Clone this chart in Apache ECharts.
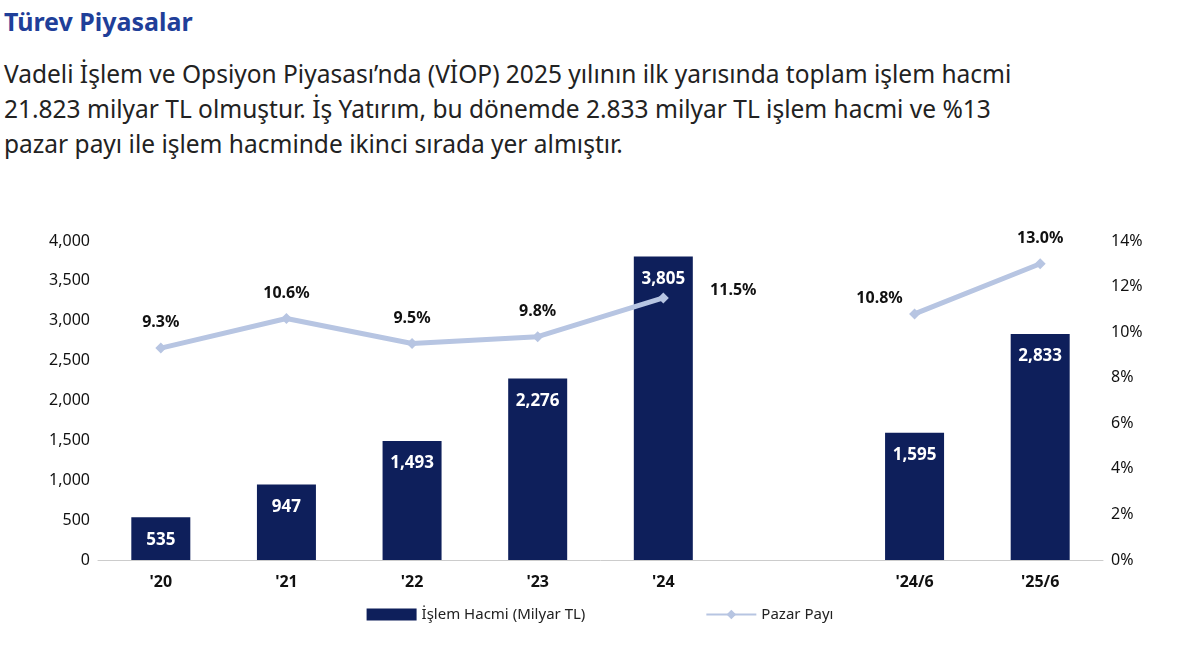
<!DOCTYPE html>
<html><head><meta charset="utf-8">
<script src="https://cdn.jsdelivr.net/npm/echarts@6/dist/echarts.min.js"></script>
<style>
body{margin:0;width:1200px;height:647px;background:#fff;font-family:"Noto Sans",sans-serif;overflow:hidden;position:relative}
#t{position:absolute;left:4px;top:4px;font-size:25px;font-weight:bold;color:#1f3f99}
#p{position:absolute;left:4px;top:56px;width:1195px;font-size:24.5px;line-height:35px;color:#222;white-space:nowrap}
#c{position:absolute;left:0;top:200px;width:1200px;height:447px}
</style></head><body>
<div id="t">Türev Piyasalar</div>
<div id="p">Vadeli İşlem ve Opsiyon Piyasası’nda (VİOP) 2025 yılının ilk yarısında toplam işlem hacmi<br>21.823 milyar TL olmuştur. İş Yatırım, bu dönemde 2.833 milyar TL işlem hacmi ve %13<br>pazar payı ile işlem hacminde ikinci sırada yer almıştır.</div>
<div id="c"></div>
<script>
const categories=["'20","'21","'22","'23","'24","","'24/6","'25/6"];
const volume=[535,947,1493,2276,3805,null,1595,2833];
const share=[9.3,10.6,9.5,9.8,11.5,null,10.8,13.0];
const c=echarts.init(document.getElementById('c'));
const f="Noto Sans";
c.setOption({
 animation:false,
 textStyle:{fontFamily:f},
 grid:{left:98,right:97,top:41,bottom:87},
 legend:{bottom:20,left:'center',itemGap:120,itemWidth:50,itemHeight:12,textStyle:{fontSize:15,color:'#222'},
  data:[{name:'İşlem Hacmi (Milyar TL)',icon:'rect'},{name:'Pazar Payı'}]},
 xAxis:{type:'category',data:categories,axisTick:{show:false},axisLine:{lineStyle:{color:'#ccc'}},
  axisLabel:{fontSize:16,fontWeight:'bold',color:'#111',margin:14}},
 yAxis:[{type:'value',min:0,max:4000,interval:500,splitLine:{show:false},
   axisLabel:{fontSize:16,color:'#111',formatter:v=>v.toLocaleString('en-US')}},
  {type:'value',min:0,max:14,interval:2,splitLine:{show:false},
   axisLabel:{fontSize:16,color:'#111',formatter:'{value}%'}}],
 series:[
  {name:'İşlem Hacmi (Milyar TL)',type:'bar',data:volume,barWidth:59,itemStyle:{color:'#0e1f5b'},
   label:{show:true,position:'insideTop',distance:14,color:'#fff',fontSize:17,fontWeight:'bold',formatter:p=>p.value.toLocaleString('en-US')}},
  {name:'Pazar Payı',type:'line',yAxisIndex:1,data:share,connectNulls:false,symbol:'diamond',symbolSize:11,
   lineStyle:{color:'#b7c5e2',width:5},itemStyle:{color:'#b7c5e2'},
   label:{show:true,position:'top',distance:12,color:'#111',fontSize:16,fontWeight:'bold',formatter:p=>p.value.toFixed(1)+'%'},
   labelLayout:function(p){
     if(p.dataIndex===4) return {dx:70,dy:18};
     if(p.dataIndex===6) return {dx:-35,dy:10};
     return {};
   }}
 ]
});
</script></body></html>
